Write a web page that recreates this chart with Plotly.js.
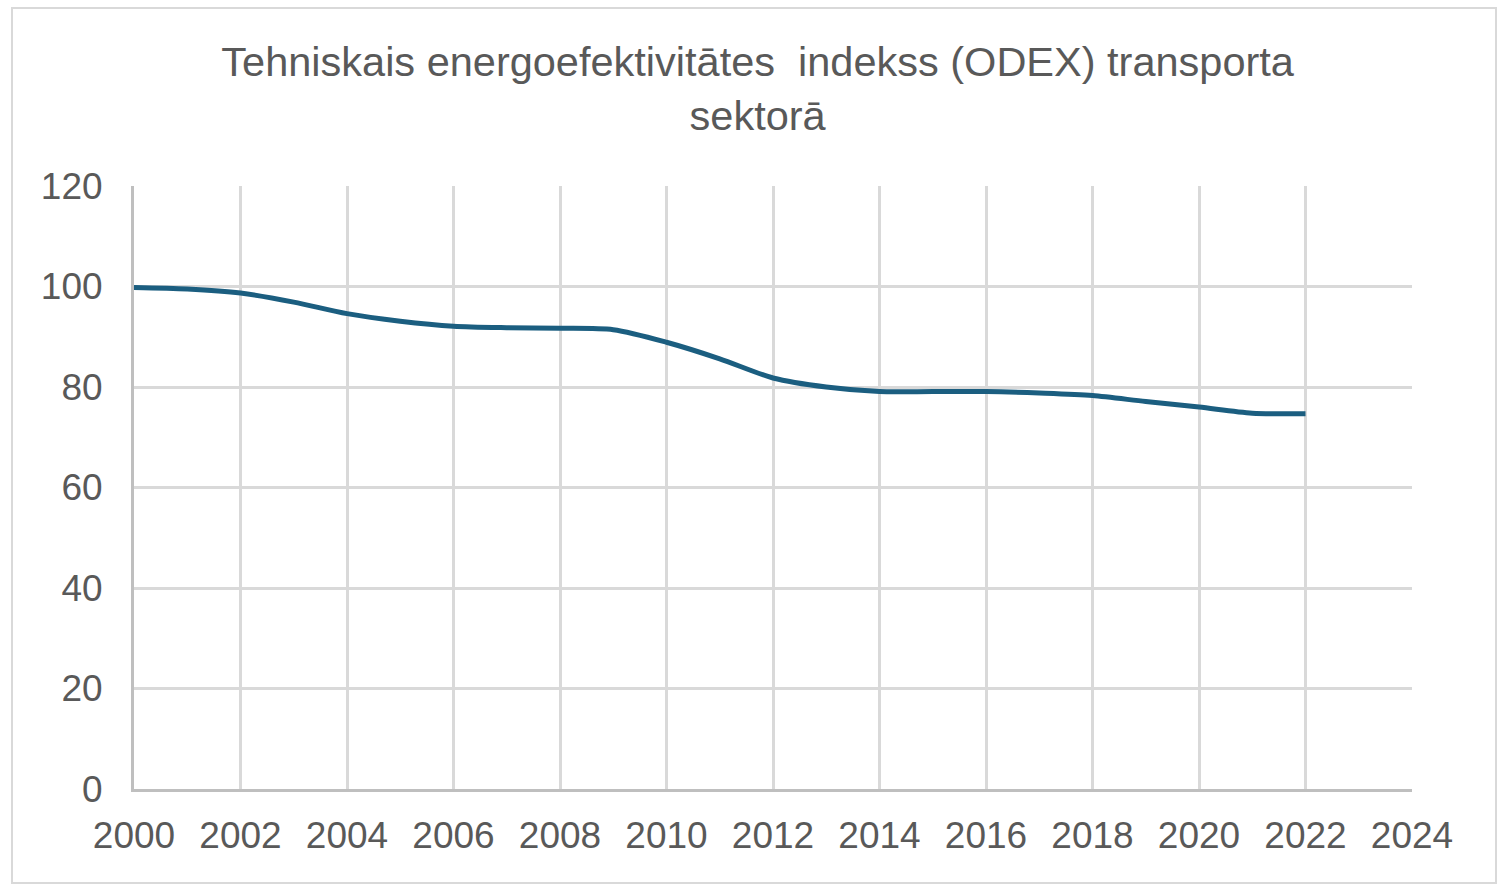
<!DOCTYPE html>
<html>
<head>
<meta charset="utf-8">
<script src="https://cdn.plot.ly/plotly-3.0.1.min.js"></script>
<style>
  html, body { margin: 0; padding: 0; background: #fff; }
  #chart { width: 1498px; height: 887px; position: absolute; left: 0; top: 0; }
  #frame { position: absolute; left: 11px; top: 7px; width: 1482px; height: 873px;
           border: 2px solid #d9d9d9; pointer-events: none; }
</style>
</head>
<body>
<div id="chart"></div>
<div id="frame"></div>
<script>
const years = [2000, 2001, 2002, 2003, 2004, 2005, 2006, 2007, 2008, 2009, 2010,
               2011, 2012, 2013, 2014, 2015, 2016, 2017, 2018, 2019, 2020, 2021, 2022];
const odex = [99.8, 99.5, 98.7, 96.9, 94.6, 93.1, 92.1, 91.8, 91.7, 91.4, 88.9,
              85.6, 81.8, 80.0, 79.1, 79.1, 79.1, 78.8, 78.3, 77.1, 76.0, 74.8, 74.7];
const xTicks = [2000, 2002, 2004, 2006, 2008, 2010, 2012, 2014, 2016, 2018, 2020, 2022, 2024];
const yTicks = [0, 20, 40, 60, 80, 100, 120];
const titleText = 'Tehniskais energoefektivitātes  indekss (ODEX) transporta<br>sektorā';

const trace = {
  x: years, y: odex, type: 'scatter', mode: 'lines',
  line: { color: '#1b5e80', width: 5, shape: 'spline', smoothing: 0.8 },
  hoverinfo: 'x+y'
};

const layout = {
  width: 1498, height: 887,
  paper_bgcolor: '#ffffff', plot_bgcolor: '#ffffff',
  margin: { l: 134, r: 86, t: 186, b: 98, pad: 0 },
  showlegend: false,
  font: { family: 'Liberation Sans, Arial, sans-serif', color: '#595959' },
  title: {
    text: titleText,
    font: { size: 41.5, color: '#595959', family: 'Liberation Sans, Arial, sans-serif' },
    x: 0.488, xanchor: 'center', xref: 'paper',
    y: 1 - 76 / 887, yanchor: 'top', yref: 'container'
  },
  xaxis: {
    range: [2000, 2024], tickvals: xTicks, ticktext: xTicks.map(String),
    showgrid: true, gridcolor: '#d9d9d9', gridwidth: 3,
    showline: true, linecolor: '#bfbfbf', linewidth: 3,
    zeroline: false, ticks: '', ticklabelstandoff: 12,
    tickfont: { size: 37, color: '#595959' }, fixedrange: true
  },
  yaxis: {
    range: [0, 120], tickvals: yTicks, ticktext: yTicks.map(String),
    showgrid: true, gridcolor: '#d9d9d9', gridwidth: 3,
    showline: true, linecolor: '#bfbfbf', linewidth: 3,
    zeroline: false, ticks: '', ticklabelstandoff: 21,
    tickfont: { size: 37, color: '#595959' }, fixedrange: true
  }
};

Plotly.newPlot('chart', [trace], layout, { displayModeBar: false, staticPlot: true });
</script>
</body>
</html>
